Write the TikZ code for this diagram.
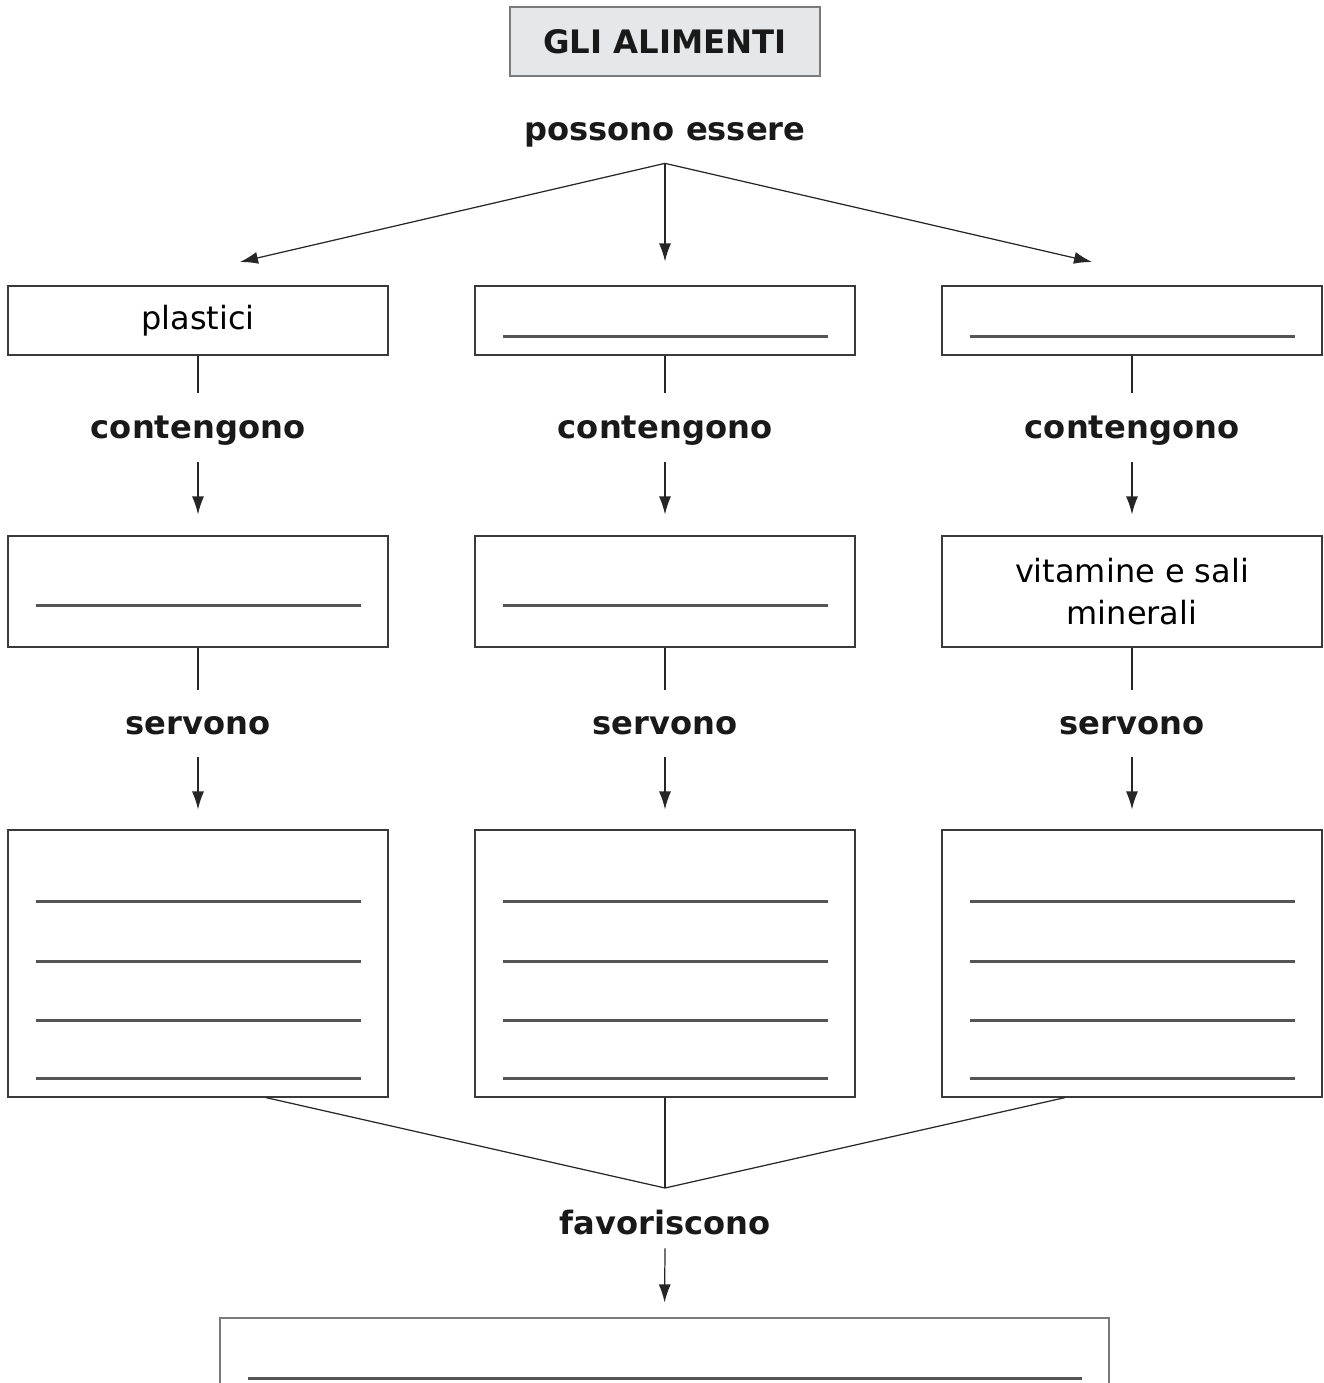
\documentclass[tikz,border=0pt]{standalone}
\usepackage{fontspec}
\setmainfont{DejaVu Sans}
\usepackage{tikz}
\usetikzlibrary{arrows.meta,positioning,calc}
\usepackage{xcolor}
\definecolor{boxline}{HTML}{3A3A3A}
\definecolor{softline}{HTML}{7A7A7A}
\definecolor{blankline}{HTML}{555555}
\definecolor{titlebg}{HTML}{E6E7E8}

% blank line to be filled in, offset in px below the box top
\newcommand{\blankline}[2]{%
  \draw[blankline, line width=1.3pt] ($(#1.north west)+(29,#2)$) -- ($(#1.north east)+(-28,#2)$);}

\begin{document}
\begin{tikzpicture}[
    x=0.02cm, y=-0.02cm,
    >={Latex[length=0.36cm,width=0.24cm]},
    catbox/.style={
      draw=boxline, line width=0.7pt, fill=white,
      minimum width=7.6cm, minimum height=#1,
      align=center, inner sep=0pt,
      font=\fontsize{18.2pt}{23.5pt}\selectfont,
    },
    verb/.style={
      font=\fontsize{18.3pt}{22pt}\selectfont\bfseries, text=black!90,
      text height=1.25em, text depth=0pt,
      inner sep=0pt, minimum height=#1,
    },
    link/.style={draw=black!85, line width=0.7pt},
    arrow/.style={link, ->},
  ]

  \useasboundingbox (0,0) rectangle (1324,1383);
  \clip (0,0) rectangle (1324,1383);

  % =================== Title ===================
  \node[draw=softline, line width=0.7pt, fill=titlebg, minimum width=6.2cm, minimum height=1.38cm,
        font=\fontsize{18.4pt}{22pt}\selectfont\bfseries, text=black!90] (alimenti) at (665,41.5) {GLI ALIMENTI};
  \node[verb=1.32cm] (possono) at (665,130) {possono essere};

  \coordinate (endA) at (240,262);
  \coordinate (endC) at (1092,262);

  % =================== Row 1: kinds ===================
  \node[catbox=1.38cm] (k1) at (198,320.5) {\raisebox{-3pt}{plastici}};
  \node[catbox=1.38cm] (k2) at (665,320.5) {};
  \node[catbox=1.38cm] (k3) at (1132,320.5) {};
  \blankline{k2}{51}
  \blankline{k3}{51}

  \draw[arrow] (possono.south) -- (endA);
  \draw[arrow, shorten >=0.48cm] (possono.south) -- (k2.north);
  \draw[arrow] (possono.south) -- (endC);

  % contengono
  \node[verb=1.38cm] (c1) at (198,427.5) {contengono};
  \node[verb=1.38cm] (c2) at (665,427.5) {contengono};
  \node[verb=1.38cm] (c3) at (1132,427.5) {contengono};

  % =================== Row 2: nutrients ===================
  \node[catbox=2.22cm] (n1) at (198,591.5) {};
  \node[catbox=2.22cm] (n2) at (665,591.5) {};
  \node[catbox=2.22cm] (n3) at (1132,591.5) {vitamine e sali\\minerali};
  \blankline{n1}{70}
  \blankline{n2}{70}

  \foreach \i in {1,2,3} {
    \draw[link] (k\i.south) -- (c\i.north);
    \draw[arrow, shorten >=0.42cm] (c\i.south) -- (n\i.north);
  }

  % servono
  \node[verb=1.34cm] (s1) at (198,723.5) {servono};
  \node[verb=1.34cm] (s2) at (665,723.5) {servono};
  \node[verb=1.34cm] (s3) at (1132,723.5) {servono};

  % =================== Row 3: functions ===================
  \node[catbox=5.34cm] (f1) at (198,963.5) {};
  \node[catbox=5.34cm] (f2) at (665,963.5) {};
  \node[catbox=5.34cm] (f3) at (1132,963.5) {};

  \foreach \i in {1,2,3} {
    \draw[link] (n\i.south) -- (s\i.north);
    \draw[arrow, shorten >=0.40cm] (s\i.south) -- (f\i.north);
    \foreach \dy in {72,132,191,249} {\blankline{f\i}{\dy}}
  }

  % =================== Joining lines ===================
  \coordinate (join) at (665,1188);
  \draw[link] ([xshift=1.36cm]f1.south) -- (join);
  \draw[link] (f2.south) -- (join);
  \draw[link] ([xshift=-1.34cm]f3.south) -- (join);

  \node[verb=0.96cm] (fav) at (665,1224) {favoriscono};

  % =================== Result box ===================
  \node[draw=softline, line width=0.7pt, minimum width=17.78cm, minimum height=2.6cm, inner sep=0pt]
    (res) at (664.5,1383) {};
  \blankline{res}{61}
  \draw[arrow, shorten >=0.30cm] (fav.south) -- (res.north);

\end{tikzpicture}
\end{document}
